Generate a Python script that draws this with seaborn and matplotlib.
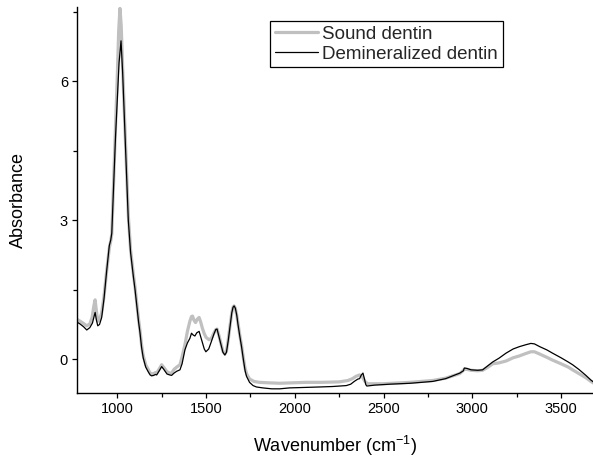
import numpy as np
import pandas as pd
import matplotlib
matplotlib.use("Agg")
import matplotlib.pyplot as plt
import seaborn as sns
from matplotlib.ticker import MultipleLocator

# ---- data ----
sound_wn = [773, 790, 810, 828, 845, 858, 868, 875, 882, 890, 900, 912, 925, 940, 955, 963, 969, 980,
            990, 1000, 1008, 1015, 1022, 1030, 1040, 1050, 1062, 1075, 1090, 1100, 1110, 1120, 1128,
            1137, 1146, 1160, 1174, 1185, 1193, 1205, 1215, 1222, 1238, 1250, 1262, 1280, 1295, 1306,
            1320, 1335, 1353, 1365, 1381, 1395, 1409, 1418, 1424, 1432, 1441, 1450, 1461, 1470, 1480,
            1490, 1500, 1517, 1530, 1545, 1555, 1562, 1572, 1585, 1595, 1606, 1615, 1625, 1635, 1645,
            1652, 1658, 1665, 1673, 1680, 1690, 1700, 1710, 1720, 1730, 1746, 1770, 1800, 1850, 1915,
            2000, 2065, 2150, 2250, 2300, 2325, 2345, 2365, 2380, 2395, 2410, 2500, 2650, 2777, 2850,
            2890, 2930, 2955, 2970, 2993, 3030, 3058, 3085, 3115, 3150, 3190, 3230, 3265, 3300, 3330,
            3350, 3380, 3420, 3452, 3500, 3540, 3565, 3600, 3640, 3668, 3685]
sound_abs = [0.86, 0.82, 0.77, 0.72, 0.76, 0.90, 1.15, 1.28, 1.05, 0.82, 0.85, 1.00, 1.35, 1.90, 2.40,
             2.55, 2.70, 3.90, 5.00, 6.10, 7.10, 7.57, 7.20, 6.30, 5.30, 4.30, 3.10, 2.35, 1.85, 1.55,
             1.20, 0.85, 0.62, 0.30, 0.08, -0.12, -0.22, -0.30, -0.32, -0.31, -0.29, -0.30, -0.20,
             -0.12, -0.18, -0.27, -0.30, -0.30, -0.22, -0.17, -0.12, 0.05, 0.31, 0.60, 0.82, 0.92,
             0.93, 0.84, 0.79, 0.86, 0.90, 0.80, 0.66, 0.55, 0.47, 0.42, 0.45, 0.57, 0.64, 0.65, 0.52,
             0.32, 0.17, 0.11, 0.17, 0.42, 0.72, 1.00, 1.12, 1.15, 1.10, 0.95, 0.77, 0.52, 0.30, 0.03,
             -0.20, -0.33, -0.43, -0.48, -0.50, -0.51, -0.52, -0.51, -0.50, -0.50, -0.49, -0.46,
             -0.42, -0.37, -0.34, -0.38, -0.48, -0.53, -0.53, -0.50, -0.46, -0.41, -0.36, -0.31,
             -0.22, -0.22, -0.24, -0.25, -0.24, -0.18, -0.10, -0.08, -0.04, 0.03, 0.07, 0.12, 0.16,
             0.16, 0.11, 0.04, -0.02, -0.10, -0.17, -0.23, -0.31, -0.40, -0.48, -0.52]

demin_wn = [773, 790, 810, 828, 845, 860, 868, 875, 882, 890, 900, 912, 925, 940, 955, 963, 969, 980,
            990, 1000, 1010, 1021, 1030, 1040, 1050, 1062, 1075, 1090, 1100, 1110, 1120, 1128, 1137,
            1146, 1160, 1174, 1185, 1193, 1205, 1215, 1222, 1238, 1250, 1262, 1280, 1295, 1306, 1320,
            1335, 1353, 1365, 1381, 1395, 1409, 1418, 1428, 1437, 1448, 1461, 1470, 1480, 1490, 1499,
            1515, 1530, 1545, 1555, 1562, 1572, 1585, 1595, 1606, 1615, 1625, 1635, 1645, 1652, 1658,
            1665, 1673, 1680, 1690, 1700, 1710, 1720, 1728, 1745, 1765, 1784, 1820, 1870, 1915, 1970,
            2065, 2140, 2213, 2290, 2315, 2335, 2355, 2365, 2375, 2384, 2392, 2400, 2406, 2450, 2534,
            2650, 2777, 2850, 2890, 2930, 2950, 2955, 2970, 2993, 3030, 3058, 3085, 3115, 3150, 3190,
            3230, 3265, 3300, 3330, 3350, 3380, 3420, 3452, 3500, 3540, 3565, 3600, 3640, 3668, 3685]
demin_abs = [0.80, 0.76, 0.70, 0.63, 0.68, 0.78, 0.90, 1.01, 0.85, 0.72, 0.75, 0.90, 1.30, 1.90, 2.45,
             2.57, 2.72, 3.80, 4.80, 5.60, 6.40, 6.87, 6.20, 5.20, 4.20, 3.00, 2.30, 1.80, 1.50, 1.15,
             0.80, 0.57, 0.25, 0.03, -0.17, -0.27, -0.34, -0.36, -0.35, -0.33, -0.34, -0.24, -0.16,
             -0.22, -0.32, -0.34, -0.35, -0.30, -0.26, -0.23, -0.10, 0.20, 0.35, 0.45, 0.56, 0.52,
             0.50, 0.57, 0.60, 0.48, 0.35, 0.22, 0.16, 0.22, 0.38, 0.55, 0.64, 0.65, 0.50, 0.30, 0.15,
             0.09, 0.15, 0.40, 0.70, 1.00, 1.12, 1.15, 1.10, 0.95, 0.75, 0.50, 0.27, 0.00, -0.25,
             -0.37, -0.50, -0.57, -0.60, -0.62, -0.64, -0.64, -0.62, -0.61, -0.60, -0.59, -0.57,
             -0.54, -0.48, -0.43, -0.42, -0.34, -0.30, -0.42, -0.55, -0.58, -0.56, -0.54, -0.52,
             -0.48, -0.42, -0.36, -0.30, -0.25, -0.19, -0.20, -0.23, -0.24, -0.23, -0.15, -0.06,
             0.02, 0.13, 0.22, 0.27, 0.31, 0.34, 0.33, 0.27, 0.20, 0.13, 0.03, -0.06, -0.12, -0.22,
             -0.35, -0.45, -0.50]

series_names = ["Sound dentin", "Demineralized dentin"]
x_ticks = [1000, 1500, 2000, 2500, 3000, 3500]
y_ticks = [0, 3, 6]

# ---- style ----
sns.set_style("ticks")
plt.rcParams["font.family"] = ["Liberation Sans", "DejaVu Sans"]
plt.rcParams["mathtext.fontset"] = "custom"
plt.rcParams["mathtext.rm"] = "Liberation Sans"
plt.rcParams["mathtext.it"] = "Liberation Sans:italic"

fig = plt.figure(figsize=(5.93, 4.58), dpi=100)
ax = fig.add_axes([77 / 593, 1 - 393 / 458, 516 / 593, 386 / 458])

df_s = pd.DataFrame({"wn": sound_wn, "A": sound_abs})
df_d = pd.DataFrame({"wn": demin_wn, "A": demin_abs})

sns.lineplot(data=df_s, x="wn", y="A", ax=ax, color="#c0c0c0", linewidth=2.3,
             label=series_names[0], sort=False, estimator=None)
sns.lineplot(data=df_d, x="wn", y="A", ax=ax, color="black", linewidth=0.9,
             label=series_names[1], sort=False, estimator=None)

ax.set_xlim(773, 3680)
ax.set_ylim(-0.73, 7.6)
ax.set_xticks(x_ticks)
ax.set_yticks(y_ticks)
ax.xaxis.set_minor_locator(MultipleLocator(250))
ax.yaxis.set_minor_locator(MultipleLocator(1.5))
ax.tick_params(which="major", direction="out", length=3.5, width=0.9, labelsize=10.5, pad=3,
               color="black", labelcolor="black")
ax.tick_params(which="minor", direction="out", length=3.0, width=0.9, color="black")
for side in ["top", "right"]:
    ax.spines[side].set_visible(False)
for side in ["left", "bottom"]:
    ax.spines[side].set_linewidth(1.0)
    ax.spines[side].set_color("black")

ax.set_xlabel("Wavenumber (cm$^{\\mathregular{-1}}$)", fontsize=13, color="black", labelpad=13)
ax.set_ylabel("Absorbance", fontsize=13, color="black")
ax.yaxis.set_label_coords(-0.097, 0.5)

leg = ax.legend(loc="upper left", bbox_to_anchor=(0.374, 0.964), borderaxespad=0,
                fontsize=13.5, frameon=True, fancybox=False, shadow=False,
                handlelength=2.3, handletextpad=0.25, borderpad=0.25, labelspacing=0.15)
leg.get_frame().set_edgecolor("black")
leg.get_frame().set_linewidth(0.9)
leg.get_frame().set_alpha(1)

fig.savefig("out.png", dpi=100)
